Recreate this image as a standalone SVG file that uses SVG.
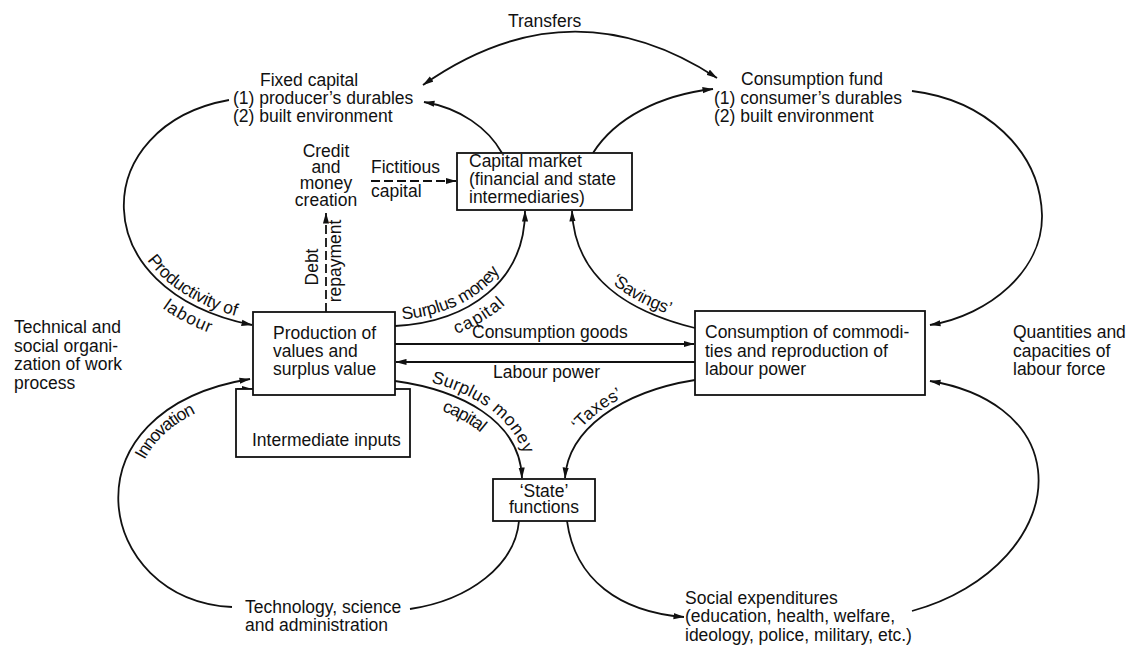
<svg xmlns="http://www.w3.org/2000/svg" width="1133" height="646" viewBox="0 0 1133 646">
  <style>
    .t { font-family: "Liberation Sans", Arial, Helvetica, sans-serif; font-size: 17.5px; fill: #111; }
    .mid { text-anchor: middle; }
    .ln { fill: none; stroke: #111; stroke-width: 1.8; }
    .dash { stroke-dasharray: 9 4; }
    .box { fill: #fff; stroke: #111; stroke-width: 1.8; }
    .guide { fill: none; stroke: none; }
  </style>
  <defs>
    <marker id="ah" viewBox="0 0 11 7" refX="10.5" refY="3.5" markerWidth="11" markerHeight="7" markerUnits="userSpaceOnUse" orient="auto-start-reverse">
      <path d="M0,0.4 L11,3.5 L0,6.6 Z" fill="#111"/>
    </marker>
    <!-- label baselines: tail of the productivity arc, and reversed copies of the savings / taxes arcs -->
    <path id="g-prod" class="guide" d="M 141,260 C 161,289 197,314 252,325"/>
    <path id="g-savings" class="guide" d="M 572,211 C 575,280 630,312 695,328"/>
    <path id="g-taxes" class="guide" d="M 565,478 C 568,430 620,392 695,380"/>
  </defs>

  <rect width="1133" height="646" fill="#fff"/>

  <!-- connectors -->
  <g id="connectors">
    <path id="c-transfers" class="ln" d="M 423,85 Q 570,-18 717,78" marker-start="url(#ah)" marker-end="url(#ah)"/>
    <path id="c-cm-fixed" class="ln" d="M 502,153 C 488,128 460,108 424,102" marker-end="url(#ah)"/>
    <path id="c-cm-fund" class="ln" d="M 593,153 C 615,118 660,95 713,89" marker-end="url(#ah)"/>
    <path id="c-productivity" class="ln" d="M 229,100 C 90,125 80,290 252,325" marker-end="url(#ah)"/>
    <path id="c-fund-consumption" class="ln" d="M 912,91 C 985,100 1040,150 1042,215 C 1043,270 990,315 930,325" marker-end="url(#ah)"/>
    <path id="c-social-consumption" class="ln" d="M 912,611 C 990,590 1045,530 1038,470 C 1032,420 985,390 930,381" marker-end="url(#ah)"/>
    <path id="c-innovation" class="ln" d="M 232,607 C 95,600 60,410 250,379" marker-end="url(#ah)"/>
    <path id="c-intermediate" class="ln" d="M 237,389 L 252,389" marker-end="url(#ah)"/>
    <path id="c-tech-state" class="ln" d="M 410,609 C 470,600 515,565 519,521"/>
    <path id="c-state-social" class="ln" d="M 567,521 C 575,580 620,612 684,617" marker-end="url(#ah)"/>
    <path id="c-smc-upper" class="ln" d="M 395,326 C 470,322 525,280 525,211" marker-end="url(#ah)"/>
    <path id="c-savings" class="ln" d="M 695,328 C 630,312 575,280 572,211" marker-end="url(#ah)"/>
    <path id="c-smc-lower" class="ln" d="M 395,381 C 460,390 520,420 522,478" marker-end="url(#ah)"/>
    <path id="c-taxes" class="ln" d="M 695,380 C 620,392 568,430 565,478" marker-end="url(#ah)"/>
    <path id="c-goods" class="ln" d="M 395,344 L 694,344" marker-end="url(#ah)"/>
    <path id="c-labour" class="ln" d="M 695,362 L 396,362" marker-end="url(#ah)"/>
    <path id="c-debt" class="ln dash" d="M 326,312 L 326,213" marker-end="url(#ah)"/>
    <path id="c-fictitious" class="ln dash" d="M 371,181 L 456,181" marker-end="url(#ah)"/>

    <!-- connector labels -->
    <text class="t" x="508" y="27">Transfers</text>
    <text class="t"><textPath href="#g-prod" startOffset="4"><tspan dy="-5">Productivity of</tspan></textPath></text>
    <text class="t"><textPath href="#g-prod" startOffset="46"><tspan dy="19">labour</tspan></textPath></text>
    <text class="t"><textPath href="#c-smc-upper" startOffset="8"><tspan dy="-6">Surplus money</tspan></textPath></text>
    <text class="t"><textPath href="#c-smc-upper" startOffset="55"><tspan dy="20">capital</tspan></textPath></text>
    <text class="t"><textPath href="#g-savings" startOffset="85"><tspan dy="-6">‘Savings’</tspan></textPath></text>
    <text class="t"><textPath href="#c-smc-lower" startOffset="35"><tspan dy="-6">Surplus money</tspan></textPath></text>
    <text class="t"><textPath href="#c-smc-lower" startOffset="55"><tspan dy="18">capital</tspan></textPath></text>
    <text class="t"><textPath href="#g-taxes" startOffset="48"><tspan dy="-5">‘Taxes’</tspan></textPath></text>
    <text class="t"><textPath href="#c-innovation" startOffset="222"><tspan dy="17">Innovation</tspan></textPath></text>
    <text class="t" x="472" y="338">Consumption goods</text>
    <text class="t" x="493" y="378">Labour power</text>
    <text class="t mid" transform="translate(318,267) rotate(-90)">Debt</text>
    <text class="t mid" transform="translate(341,261) rotate(-90)">repayment</text>
    <text class="t" x="371" y="173">Fictitious</text>
    <text class="t" x="371" y="197">capital</text>
  </g>

  <g id="fixed-capital">
    <text class="t" x="260" y="86">Fixed capital</text>
    <text class="t" x="233" y="104">(1) producer’s durables</text>
    <text class="t" x="233" y="122">(2) built environment</text>
  </g>

  <g id="consumption-fund">
    <text class="t" x="741" y="85">Consumption fund</text>
    <text class="t" x="714" y="104">(1) consumer’s durables</text>
    <text class="t" x="714" y="122">(2) built environment</text>
  </g>

  <g id="credit-creation">
    <text class="t mid" x="326" y="157">Credit</text>
    <text class="t mid" x="326" y="173">and</text>
    <text class="t mid" x="326" y="189">money</text>
    <text class="t mid" x="326" y="206">creation</text>
  </g>

  <g id="capital-market">
    <rect class="box" x="457" y="153" width="175" height="57"/>
    <text class="t" x="469" y="167">Capital market</text>
    <text class="t" x="469" y="185">(financial and state</text>
    <text class="t" x="469" y="203">intermediaries)</text>
  </g>

  <g id="intermediate-inputs">
    <rect class="box" x="236" y="389" width="174" height="68"/>
    <text class="t" x="252" y="446">Intermediate inputs</text>
  </g>

  <g id="production">
    <rect class="box" x="253" y="312" width="142" height="83"/>
    <text class="t" x="273" y="339">Production of</text>
    <text class="t" x="273" y="357">values and</text>
    <text class="t" x="273" y="375">surplus value</text>
  </g>

  <g id="consumption">
    <rect class="box" x="695" y="311" width="230" height="84"/>
    <text class="t" x="705" y="338">Consumption of commodi-</text>
    <text class="t" x="705" y="357">ties and reproduction of</text>
    <text class="t" x="705" y="375">labour power</text>
  </g>

  <g id="labour-force">
    <text class="t" x="1013" y="338">Quantities and</text>
    <text class="t" x="1013" y="357">capacities of</text>
    <text class="t" x="1013" y="375">labour force</text>
  </g>

  <g id="work-process">
    <text class="t" x="14" y="333">Technical and</text>
    <text class="t" x="14" y="352">social organi-</text>
    <text class="t" x="14" y="370">zation of work</text>
    <text class="t" x="14" y="389">process</text>
  </g>

  <g id="state-functions">
    <rect class="box" x="493" y="479" width="102" height="42"/>
    <text class="t mid" x="544" y="497">‘State’</text>
    <text class="t mid" x="544" y="513">functions</text>
  </g>

  <g id="technology">
    <text class="t" x="245" y="613">Technology, science</text>
    <text class="t" x="245" y="631">and administration</text>
  </g>

  <g id="social-expenditures">
    <text class="t" x="685" y="604">Social expenditures</text>
    <text class="t" x="685" y="622">(education, health, welfare,</text>
    <text class="t" x="685" y="641">ideology, police, military, etc.)</text>
  </g>
</svg>
